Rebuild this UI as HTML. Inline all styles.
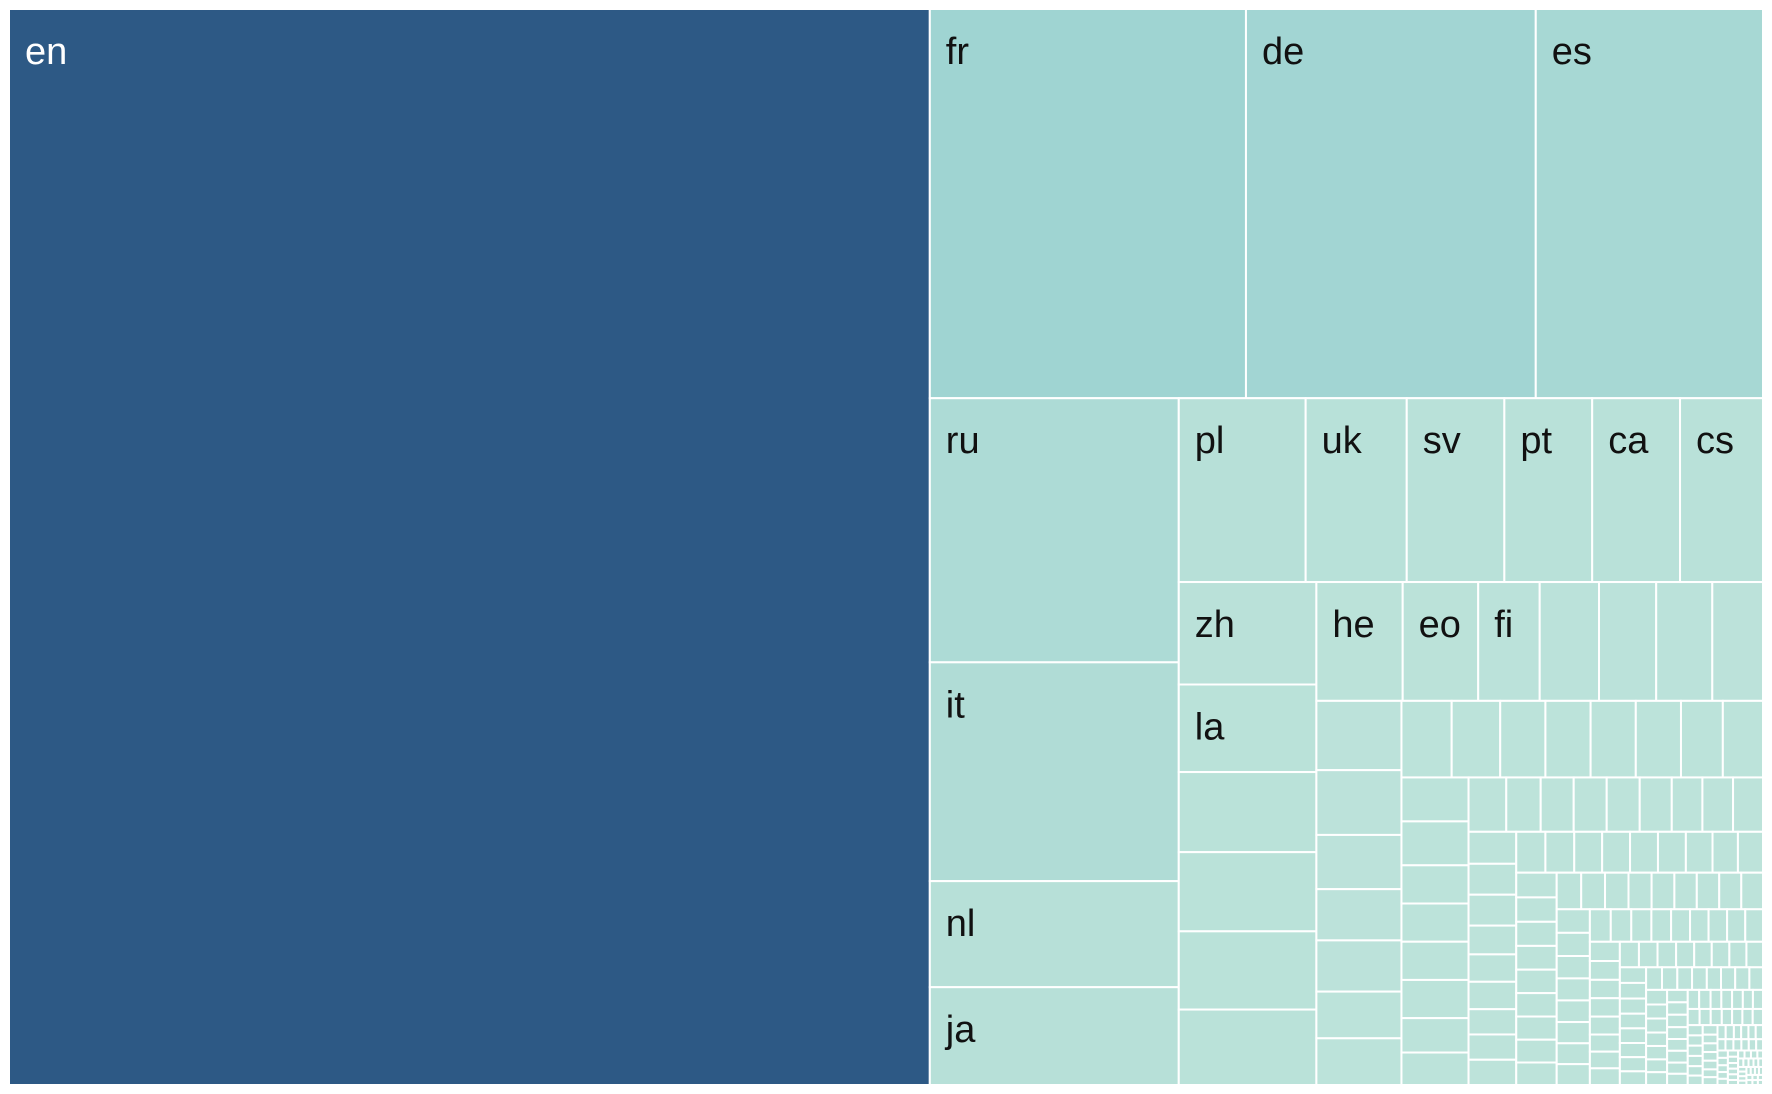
<!DOCTYPE html>
<html><head><meta charset="utf-8"><style>
html,body{margin:0;padding:0;background:#fff;width:1772px;height:1094px;overflow:hidden}
svg{display:block}
text{font-family:"Liberation Sans",sans-serif;font-size:38px}
</style></head><body>
<svg id="chart" width="1772" height="1094" viewBox="0 0 1772 1094"></svg>
<script>
const labels = ["en","fr","de","es","ru","it","nl","ja","pl","uk","sv","pt","ca","cs","zh","la","","","","","he","eo","fi"];
const bigValues = [773,96,88,69,51.3,42.5,20.6,19.0,18.2,14.5,14.0,12.6,12.6,11.9,11.0,9.4,
  8.6,8.5,8.4,8.1,8.0,7.0,5.7,5.5,5.3,5.2,4.7,
  4.6,4.3,3.6,3.4,3.4,3.1,3.1,3.0,2.9,2.7,2.7,2.7,2.7,2.5,2.4,
  2.3,2.3,2.0,2.0,2.0,2.0,1.8,1.7,1.6,1.46,1.4,1.4,1.4,1.36,1.3,1.3,1.27,
  1.19,1.15,1.15,1.07,1.02,1.02,0.94,0.94,0.94,0.93,0.92,0.89,0.89,0.89,0.89,0.85,0.81,0.80];
const tailValues = [0.78,0.77,0.76,0.75,0.74,0.74,0.73,0.72,0.71,0.70,
  0.68,0.67,0.66,0.65,0.64,0.64,0.63,0.62,0.61,0.60,
  0.58,0.57,0.56,0.55,0.54,0.54,0.53,0.52,0.51,0.50,
  0.48,0.47,0.47,0.46,0.45,0.45,0.44,0.43,0.43,0.42,
  0.40,0.39,0.39,0.38,0.37,0.37,0.36,0.35,0.35,0.34,
  0.33,0.32,0.32,0.31,0.30,0.30,0.29,0.29,0.28,0.28,
  0.27,0.26,0.26,0.25,0.25,0.25,0.24,0.24,0.23,0.23,
  0.22,0.22,0.21,0.21,0.20,0.20,0.20,0.19,0.19,0.19,
  0.18,0.18,0.17,0.17,0.16,0.16,0.16,0.15,0.15,0.15,
  0.14,0.14,0.13,0.13,0.13,0.13,0.12,0.12,0.12,0.12,
  0.11,0.11,0.11,0.10,0.10,0.10,0.10,0.09,0.09,0.09,0.09,0.08,0.08,0.08,0.08,
  0.07,0.07,0.07,0.065,0.065,0.06,0.06,0.06,0.055,0.055,0.05,0.05,0.05,0.045,0.045,0.045,0.04,0.04,0.04,0.04,
  0.035,0.035,0.034,0.033,0.032,0.031,0.03,0.03,0.029,0.028,0.027,0.026,0.025,0.025,0.024,0.023,0.022,0.021,0.02,0.02];
const values = bigValues.concat(tailValues);

const X0=9, Y0=9, X1=1763, Y1=1085;
const svg=document.getElementById('chart');
const NS='http://www.w3.org/2000/svg';
const maxLight = values[1];
function colorFor(i,v){
  if(i===0) return '#2d5985';
  const t=Math.min(1,v/maxLight);
  const a=[0xbd,0xe3,0xda], b=[0x9f,0xd4,0xd2];
  return 'rgb('+a.map((c,k)=>Math.round(c+(b[k]-c)*t)).join(',')+')';
}
function squarify(vals,x0,y0,x1,y1){
  const out=[]; const ratio=(1+Math.sqrt(5))/2;
  let value=vals.reduce((s,v)=>s+v,0);
  let i0=0,i1=0,n=vals.length;
  while(i0<n){
    const dx=x1-x0, dy=y1-y0;
    let sumValue=vals[i0]; i1=i0+1;
    let minValue=sumValue,maxValue=sumValue;
    const alpha=Math.max(dy/dx,dx/dy)/(value*ratio);
    let beta=sumValue*sumValue*alpha;
    let minRatio=Math.max(maxValue/beta,beta/minValue);
    for(;i1<n;++i1){
      const nv=vals[i1]; sumValue+=nv;
      if(nv<minValue)minValue=nv; if(nv>maxValue)maxValue=nv;
      beta=sumValue*sumValue*alpha;
      const nr=Math.max(maxValue/beta,beta/minValue);
      if(nr>minRatio){sumValue-=nv;break;}
      minRatio=nr;
    }
    if(dx<dy){
      const h=value?dy*sumValue/value:0; let x=x0;
      for(let k=i0;k<i1;k++){const w=dx*vals[k]/sumValue; out[k]=[x,y0,x+w,y0+h]; x+=w;}
      y0+=h;
    } else {
      const w=value?dx*sumValue/value:0; let y=y0;
      for(let k=i0;k<i1;k++){const h=dy*vals[k]/sumValue; out[k]=[x0,y,x0+w,y+h]; y+=h;}
      x0+=w;
    }
    value-=sumValue; i0=i1;
  }
  return out;
}
const rects=squarify(values,X0,Y0,X1,Y1);
rects.forEach((r,i)=>{
  const lab = i<labels.length ? labels[i] : '';
  const g=document.createElementNS(NS,'g');
  
  
  const rc=document.createElementNS(NS,'rect');
  rc.setAttribute('x',r[0]);rc.setAttribute('y',r[1]);
  rc.setAttribute('width',Math.max(0,r[2]-r[0]));rc.setAttribute('height',Math.max(0,r[3]-r[1]));
  rc.setAttribute('fill',colorFor(i,values[i]));
  rc.setAttribute('stroke','#ffffff');rc.setAttribute('stroke-width','2');
  
  
  g.appendChild(rc);
  if(lab){
    const t=document.createElementNS(NS,'text');
    t.setAttribute('x',r[0]+16);t.setAttribute('y',r[1]+55);
    t.setAttribute('fill',i===0?'#ffffff':'#111111');
    t.textContent=lab;
    
    
    g.appendChild(t);
  }
  svg.appendChild(g);
});
</script>
</body></html>
